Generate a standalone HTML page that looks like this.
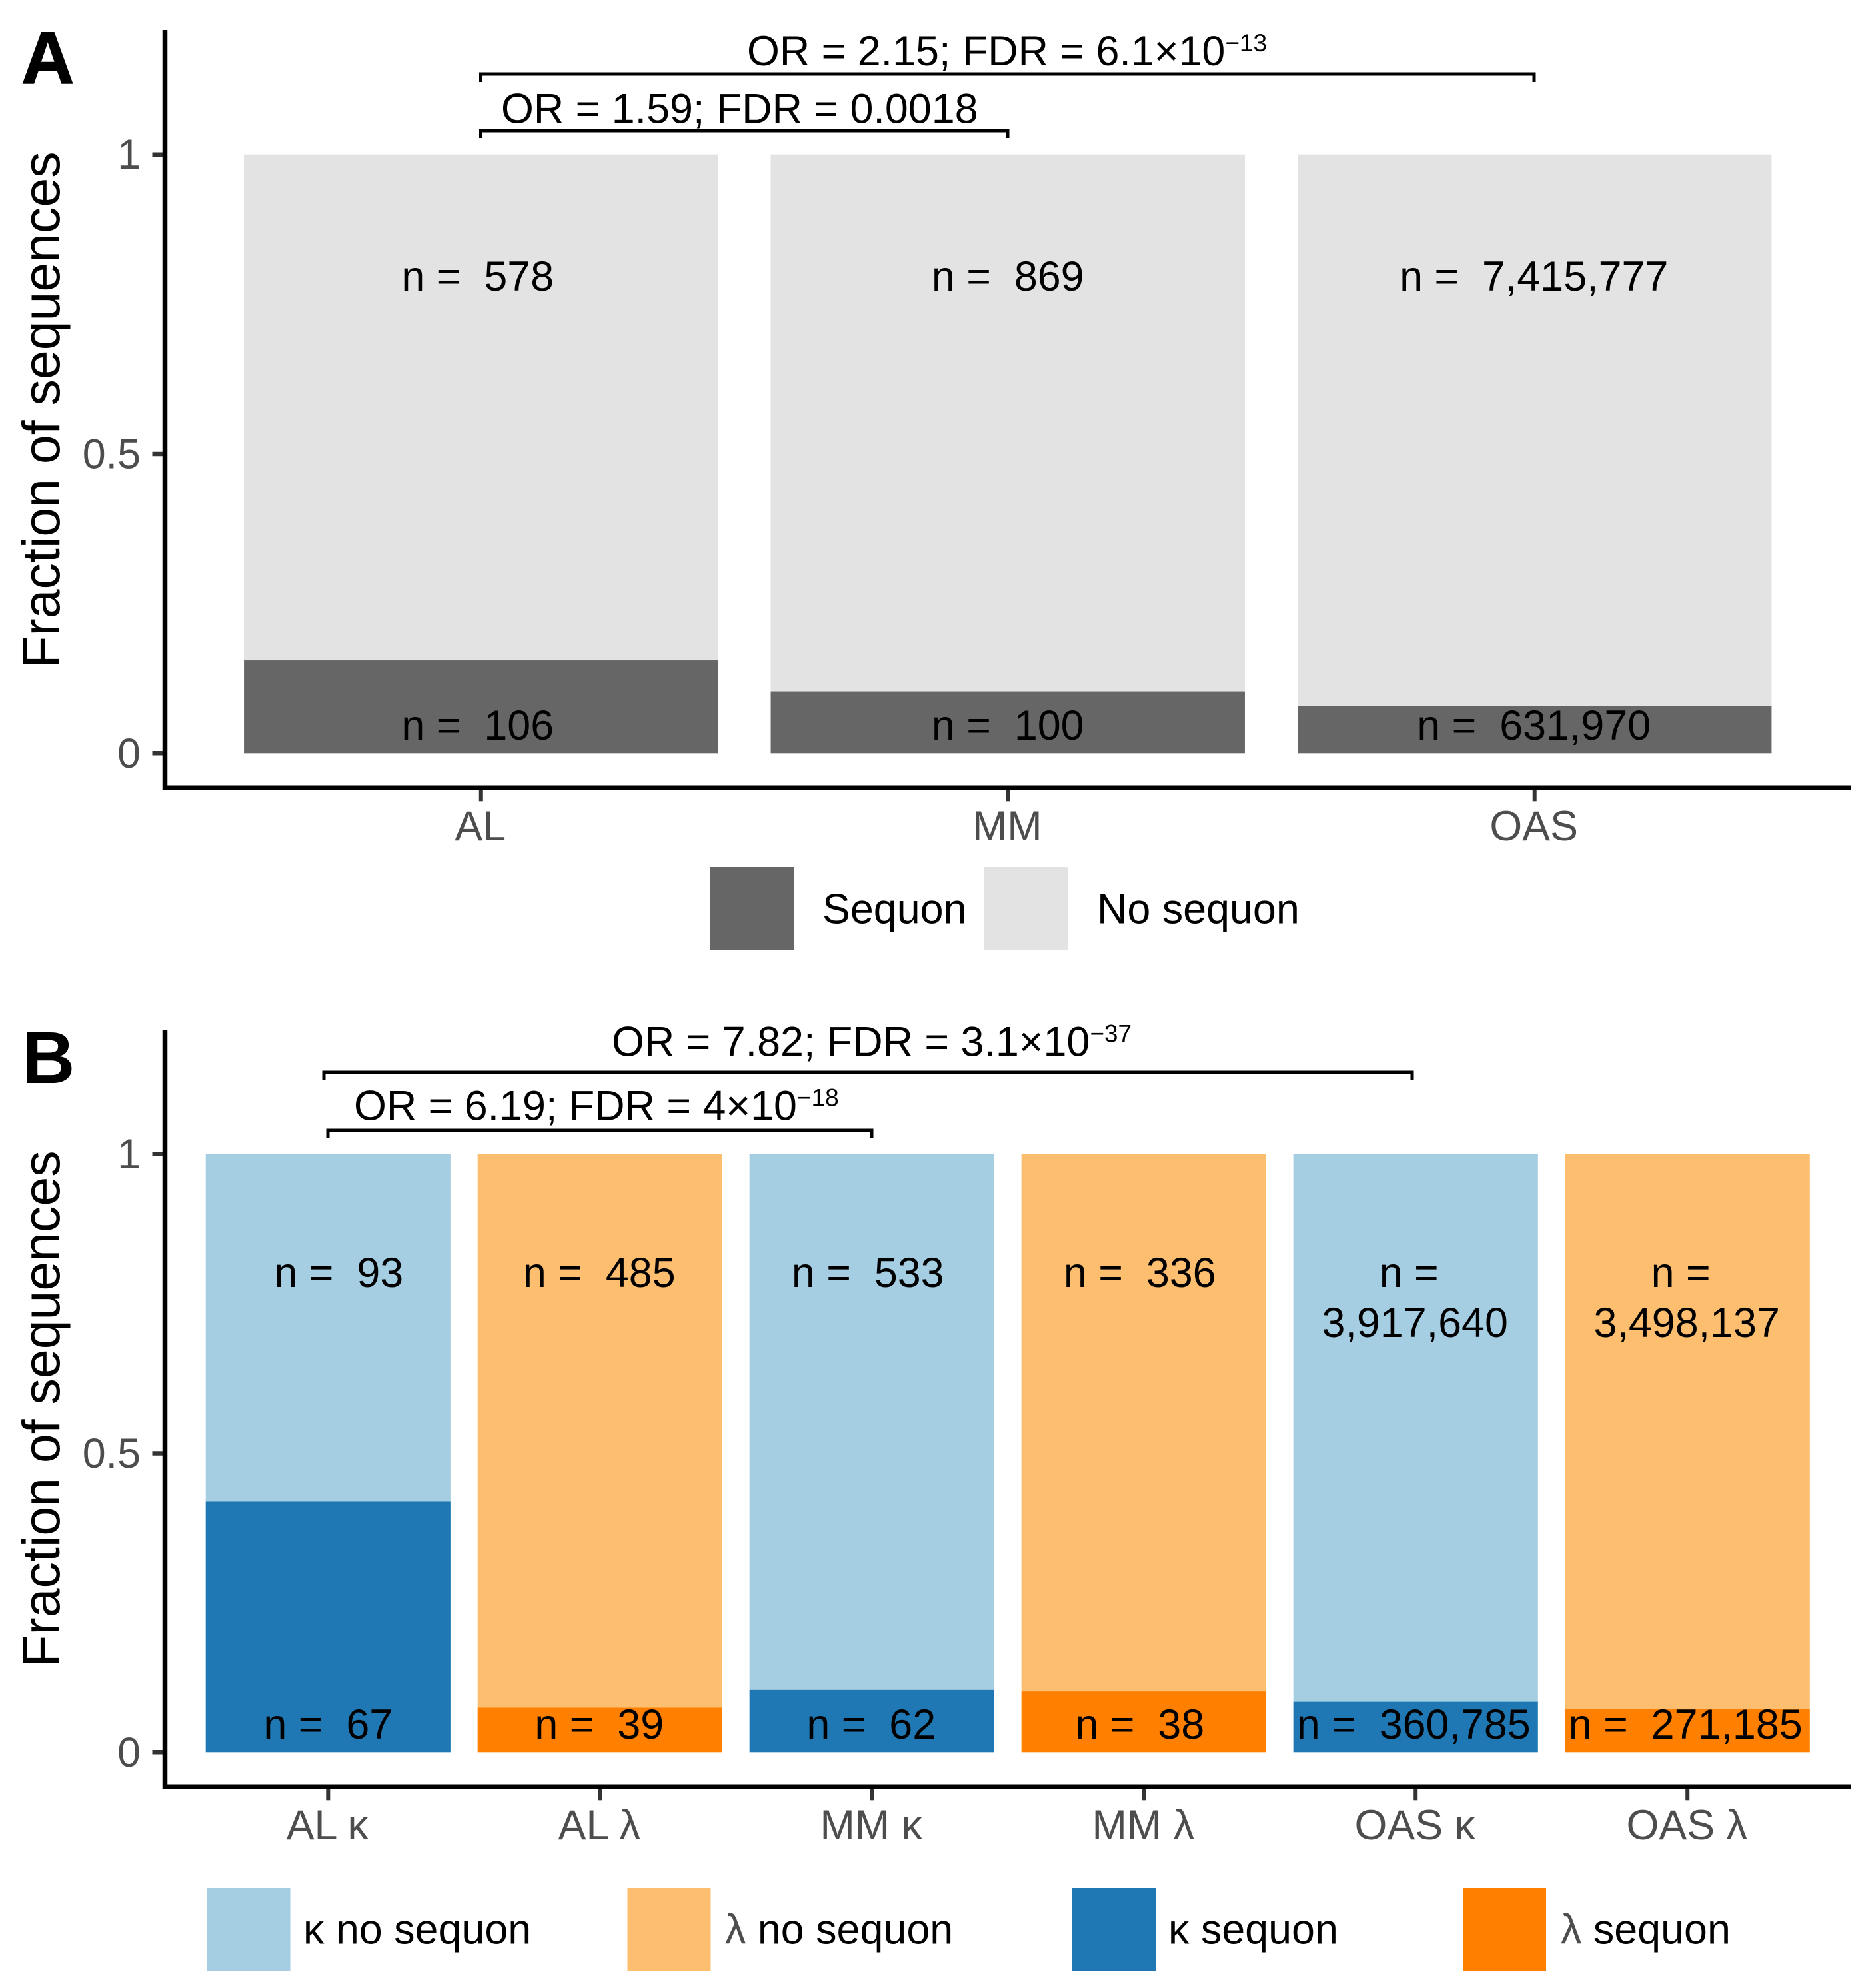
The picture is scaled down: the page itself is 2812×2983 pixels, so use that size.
<!DOCTYPE html>
<html lang="en">
<head>
<meta charset="utf-8">
<title>Fraction of sequences with sequons</title>
<style>
html,body{margin:0;padding:0;background:#fff;}
svg{display:block;}
text{font-family:"Liberation Sans",Arial,sans-serif;white-space:pre;}
</style>
</head>
<body>
<svg id="figure" xmlns="http://www.w3.org/2000/svg" width="2812" height="2983" viewBox="0 0 2812 2983">
  <rect x="0" y="0" width="2812" height="2983" fill="#ffffff"/>
  <text x="32" y="125" font-size="110" font-weight="700" fill="#000" stroke="#000" stroke-width="1.5">A</text>
  <text x="33" y="1625" font-size="110" font-weight="700" fill="#000">B</text>

  <g fill="none" stroke="#000" stroke-width="5">
    <path d="M721.5 123V111H2302V123"/>
    <path d="M721.5 207V196H1512V207"/>
  </g>
  <text x="1121" y="98" font-size="62.8" fill="#000">OR = 2.15; FDR = 6.1×10<tspan font-size="37" dy="-21">−13</tspan></text>
  <text x="752" y="184.5" font-size="62.8" fill="#000">OR = 1.59; FDR = 0.0018</text>

  <g fill="none" stroke="#000" stroke-width="5">
    <path d="M486 1621V1609H2119V1621"/>
    <path d="M492 1707V1696H1308V1707"/>
  </g>
  <text x="918" y="1584.5" font-size="62.8" fill="#000">OR = 7.82; FDR = 3.1×10<tspan font-size="37" dy="-21">−37</tspan></text>
  <text x="531" y="1680.5" font-size="62.8" fill="#000">OR = 6.19; FDR = 4×10<tspan font-size="37" dy="-21">−18</tspan></text>

  <g>
    <rect x="1066" y="1301" width="125" height="125" fill="#666666"/>
    <text x="1234" y="1385.5" font-size="62.8" fill="#000">Sequon</text>
    <rect x="1477" y="1301" width="125" height="125" fill="#E3E3E3"/>
    <text x="1646" y="1385.5" font-size="62.8" fill="#000">No sequon</text>
  </g>

  <g>
    <rect x="310.5" y="2833" width="125" height="125" fill="#A6CEE3"/>
    <text x="455" y="2916.5" font-size="62.8" fill="#000">κ no sequon</text>
    <rect x="941.5" y="2833" width="125" height="125" fill="#FDBF6F"/>
    <text x="1088" y="2916.5" font-size="62.8" fill="#000"><tspan fill="#4d4d4d">λ</tspan> no sequon</text>
    <rect x="1609" y="2833" width="125" height="125" fill="#1F78B4"/>
    <text x="1753" y="2916.5" font-size="62.8" fill="#000">κ sequon</text>
    <rect x="2195" y="2833" width="125" height="125" fill="#FF7F00"/>
    <text x="2342" y="2916.5" font-size="62.8" fill="#000"><tspan fill="#4d4d4d">λ</tspan> sequon</text>
  </g>
</svg>
<script>
// ---- chart data ----
const yTicks = [0, 0.5, 1];
const categoriesA = ['AL', 'MM', 'OAS'];
const sequonCountsA = [106, 100, 631970];
const noSequonCountsA = [578, 869, 7415777];
const categoriesB = ['AL κ', 'AL λ', 'MM κ', 'MM λ', 'OAS κ', 'OAS λ'];
const sequonCountsB = [67, 39, 62, 38, 360785, 271185];
const noSequonCountsB = [93, 485, 533, 336, 3917640, 3498137];

// ---- layout ----
const NS = 'http://www.w3.org/2000/svg';
const svg = document.getElementById('figure');
const AXIS_LEFT = 247.5, AXIS_RIGHT = 2777;
const TEXT_SIZE = 62.8;

const panelA = {
  key: 'a', categories: categoriesA, sequon: sequonCountsA, noSequon: noSequonCountsA,
  y0: 1130.3, y1: 231.7, axisTop: 45, axisY: 1182.3, tickLabelY: 1261,
  titleY: 615, upperY: 436, lowerY: 1110,
  sequonFills: ['#666666'], noSequonFills: ['#E3E3E3'],
  upperNudge: [-5, 0, -1], lowerNudge: [-5, 0, -1]
};
const panelB = {
  key: 'b', categories: categoriesB, sequon: sequonCountsB, noSequon: noSequonCountsB,
  y0: 2629.3, y1: 1731.7, axisTop: 1545, axisY: 2681.3, tickLabelY: 2760,
  titleY: 2114, upperY: 1931, lowerY: 2609,
  sequonFills: ['#1F78B4', '#FF7F00'], noSequonFills: ['#A6CEE3', '#FDBF6F'],
  upperNudge: [16, -1, -6, -6, 0, 0], lowerNudge: [0, -1, -1, -6, -3, -3]
};

function el(tag, parent, attrs) {
  const node = document.createElementNS(NS, tag);
  Object.keys(attrs).forEach(function (k) { node.setAttribute(k, attrs[k]); });
  parent.appendChild(node);
  return node;
}

function slug(s) {
  return s.toLowerCase().replace('κ', 'kappa').replace('λ', 'lambda').replace(/\s+/g, '-');
}

function fmt(n) {
  return n.toLocaleString('en-US');
}

function drawPanel(p) {
  const step = (AXIS_RIGHT - AXIS_LEFT) / (p.categories.length - 1 + 1.2);
  const xScale = function (i) { return AXIS_LEFT + (0.6 + i) * step; };
  const yScale = function (v) { return p.y0 + (p.y1 - p.y0) * v; };
  const barW = 0.9 * step;

  const g = el('g', svg, {});
  
  

  p.categories.forEach(function (cat, i) {
    const total = p.sequon[i] + p.noSequon[i];
    const frac = p.sequon[i] / total;
    const x = xScale(i) - barW / 2;

    const top = el('rect', g, { x: x, y: yScale(1), width: barW, height: yScale(frac) - yScale(1), fill: p.noSequonFills[i % p.noSequonFills.length] });
    
    

    const bottom = el('rect', g, { x: x, y: yScale(frac), width: barW, height: yScale(0) - yScale(frac), fill: p.sequonFills[i % p.sequonFills.length] });
    
    

    // count labels
    const upper = p.noSequon[i];
    if (p.key === 'b' && upper >= 1000000) {
      const t1 = el('text', g, { x: xScale(i) - 10, y: p.upperY, 'font-size': TEXT_SIZE, 'text-anchor': 'middle', fill: '#000' });
      
      
      t1.textContent = 'n =';
      const t2 = el('text', g, { x: xScale(i) - 1, y: p.upperY + 75, 'font-size': TEXT_SIZE, 'text-anchor': 'middle', fill: '#000' });
      
      
      t2.textContent = fmt(upper);
    } else {
      const t = el('text', g, { x: xScale(i) + p.upperNudge[i], y: p.upperY, 'font-size': TEXT_SIZE, 'text-anchor': 'middle', fill: '#000' });
      
      
      t.textContent = 'n =  ' + fmt(upper);
    }
    const l = el('text', g, { x: xScale(i) + p.lowerNudge[i], y: p.lowerY, 'font-size': TEXT_SIZE, 'text-anchor': 'middle', fill: '#000' });
    
    
    l.textContent = 'n =  ' + fmt(p.sequon[i]);

    // x tick + label
    const tick = el('line', g, { x1: xScale(i), x2: xScale(i), y1: p.axisY, y2: p.axisY + 20, stroke: '#333333', 'stroke-width': 6 });
    
    
    const tl = el('text', g, { x: xScale(i) - 1, y: p.tickLabelY, 'font-size': TEXT_SIZE, 'text-anchor': 'middle', fill: '#4d4d4d' });
    
    
    tl.textContent = cat;
  });

  yTicks.forEach(function (v) {
    const yt = el('line', g, { x1: AXIS_LEFT - 19, x2: AXIS_LEFT, y1: yScale(v), y2: yScale(v), stroke: '#333333', 'stroke-width': 6.5 });
    
    
    const yl = el('text', g, { x: 211, y: yScale(v) + 21.5, 'font-size': TEXT_SIZE, 'text-anchor': 'end', fill: '#4d4d4d' });
    
    
    yl.textContent = String(v);
  });

  const ax = el('path', g, { d: 'M' + AXIS_LEFT + ' ' + p.axisTop + 'V' + p.axisY + 'H' + AXIS_RIGHT, fill: 'none', stroke: '#000', 'stroke-width': 7.5, 'stroke-linejoin': 'miter' });
  
  

  const title = el('text', g, { transform: 'translate(89,' + p.titleY + ') rotate(-90)', 'font-size': 78.8, 'text-anchor': 'middle', fill: '#000' });
  
  
  title.textContent = 'Fraction of sequences';
}

drawPanel(panelA);
drawPanel(panelB);
</script>
</body>
</html>
